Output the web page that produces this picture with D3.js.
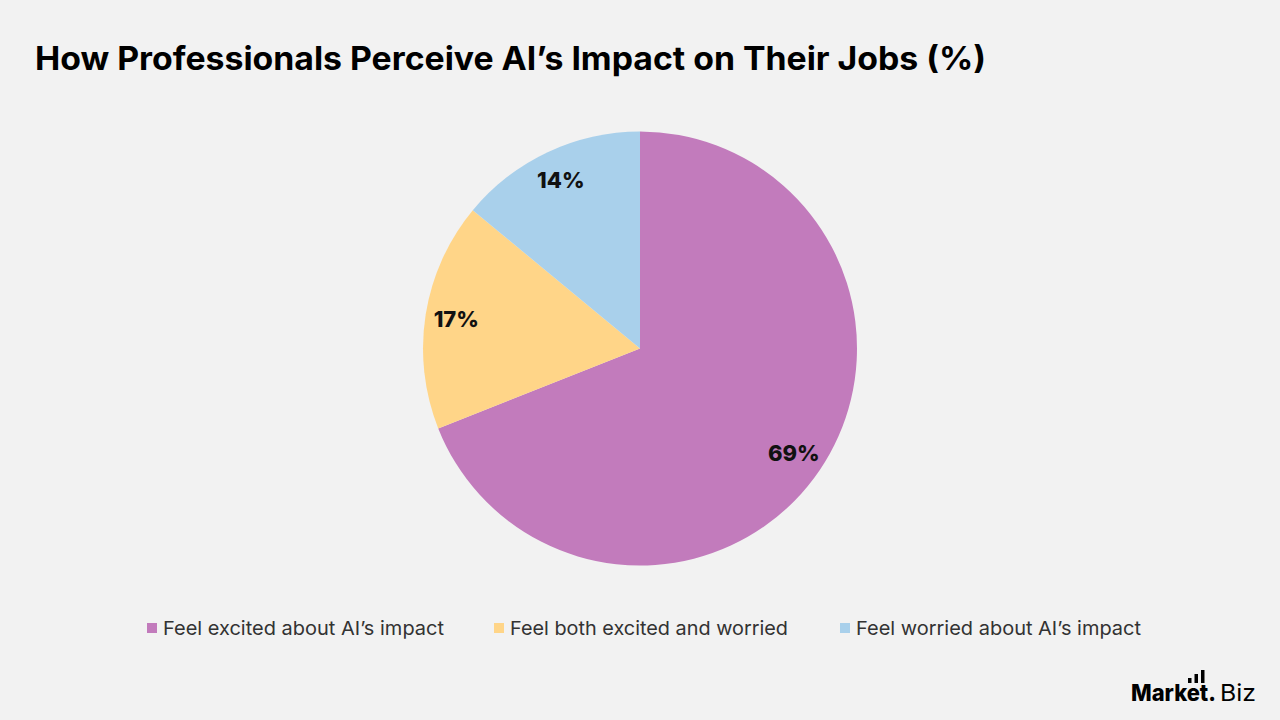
<!DOCTYPE html>
<html>
<head>
<meta charset="utf-8">
<script src="https://cdn.jsdelivr.net/npm/d3@7"></script>
<style>
  body { margin: 0; background: #f2f2f2; }
  svg { display: block; font-family: "Inter", "Noto Sans", sans-serif; }
</style>
</head>
<body>
<svg id="chart" width="1280" height="720"></svg>
<script>
// chart data
const categories = ["Feel excited about AI’s impact", "Feel both excited and worried", "Feel worried about AI’s impact"];
const values = [69, 17, 14];
const colors = ["#c27bbc", "#ffd588", "#a9d0eb"];
const legendX = [147, 494, 840];

const svg = d3.select("#chart");
const width = 1280, height = 720;

svg.append("rect").attr("width", width).attr("height", height).attr("fill", "#f2f2f2");

// title
svg.append("text")
    .attr("x", 35).attr("y", 70)
    .attr("font-size", 32).attr("font-weight", 700)
    .attr("fill", "#000")
    .attr("textLength", 951).attr("lengthAdjust", "spacingAndGlyphs")
    .text("How Professionals Perceive AI’s Impact on Their Jobs (%)");

const cx = 640, cy = 348.5, radius = 217;
const data = categories.map((c, i) => ({ name: c, value: values[i], color: colors[i] }));

const pie = d3.pie().sort(null).value(d => d.value);
const arc = d3.arc().innerRadius(0).outerRadius(radius);
const labelArc = d3.arc().innerRadius(186).outerRadius(186);

const g = svg.append("g").attr("transform", `translate(${cx},${cy})`);
const arcs = pie(data);

g.selectAll("path")
    .data(arcs)
    .enter().append("path")
    .attr("d", arc)
    .attr("fill", d => d.data.color);

g.selectAll("text.lbl")
    .data(arcs)
    .enter().append("text")
    .attr("class", "lbl")
    .attr("transform", d => `translate(${labelArc.centroid(d)})`)
    .attr("text-anchor", "middle")
    .attr("dy", "0.36em")
    .attr("font-size", 22).attr("font-weight", 800)
    .attr("fill", "#111")
    .text(d => d.data.value + "%");

// legend
const legend = svg.selectAll("g.legend")
    .data(data)
    .enter().append("g")
    .attr("class", "legend")
    .attr("transform", (d, i) => `translate(${legendX[i]},628)`);

legend.append("rect")
    .attr("x", 0).attr("y", -5)
    .attr("width", 10).attr("height", 10)
    .attr("fill", d => d.color);

legend.append("text")
    .attr("x", 16).attr("y", 7)
    .attr("font-size", 19)
    .attr("fill", "#333")
    .attr("textLength", (d, i) => [281, 278, 285][i])
    .attr("lengthAdjust", "spacingAndGlyphs")
    .text(d => d.name);

// logo
const logo = svg.append("g").attr("transform", "translate(1131,701)");
logo.append("text")
    .attr("x", 0).attr("y", 0)
    .attr("font-size", 23).attr("font-weight", 800)
    .attr("fill", "#000")
    .attr("textLength", 85).attr("lengthAdjust", "spacingAndGlyphs")
    .text("Market.");
logo.append("text")
    .attr("x", 89).attr("y", 0)
    .attr("font-size", 23).attr("font-weight", 400)
    .attr("fill", "#000")
    .attr("textLength", 36).attr("lengthAdjust", "spacingAndGlyphs")
    .text("Biz");
const barH = [5, 9, 13];
logo.selectAll("rect.bar")
    .data(barH)
    .enter().append("rect")
    .attr("class", "bar")
    .attr("x", (d, i) => 57 + i * 6.5)
    .attr("y", d => -18 - d)
    .attr("width", 3.5)
    .attr("height", d => d)
    .attr("fill", "#000");
</script>
</body>
</html>
